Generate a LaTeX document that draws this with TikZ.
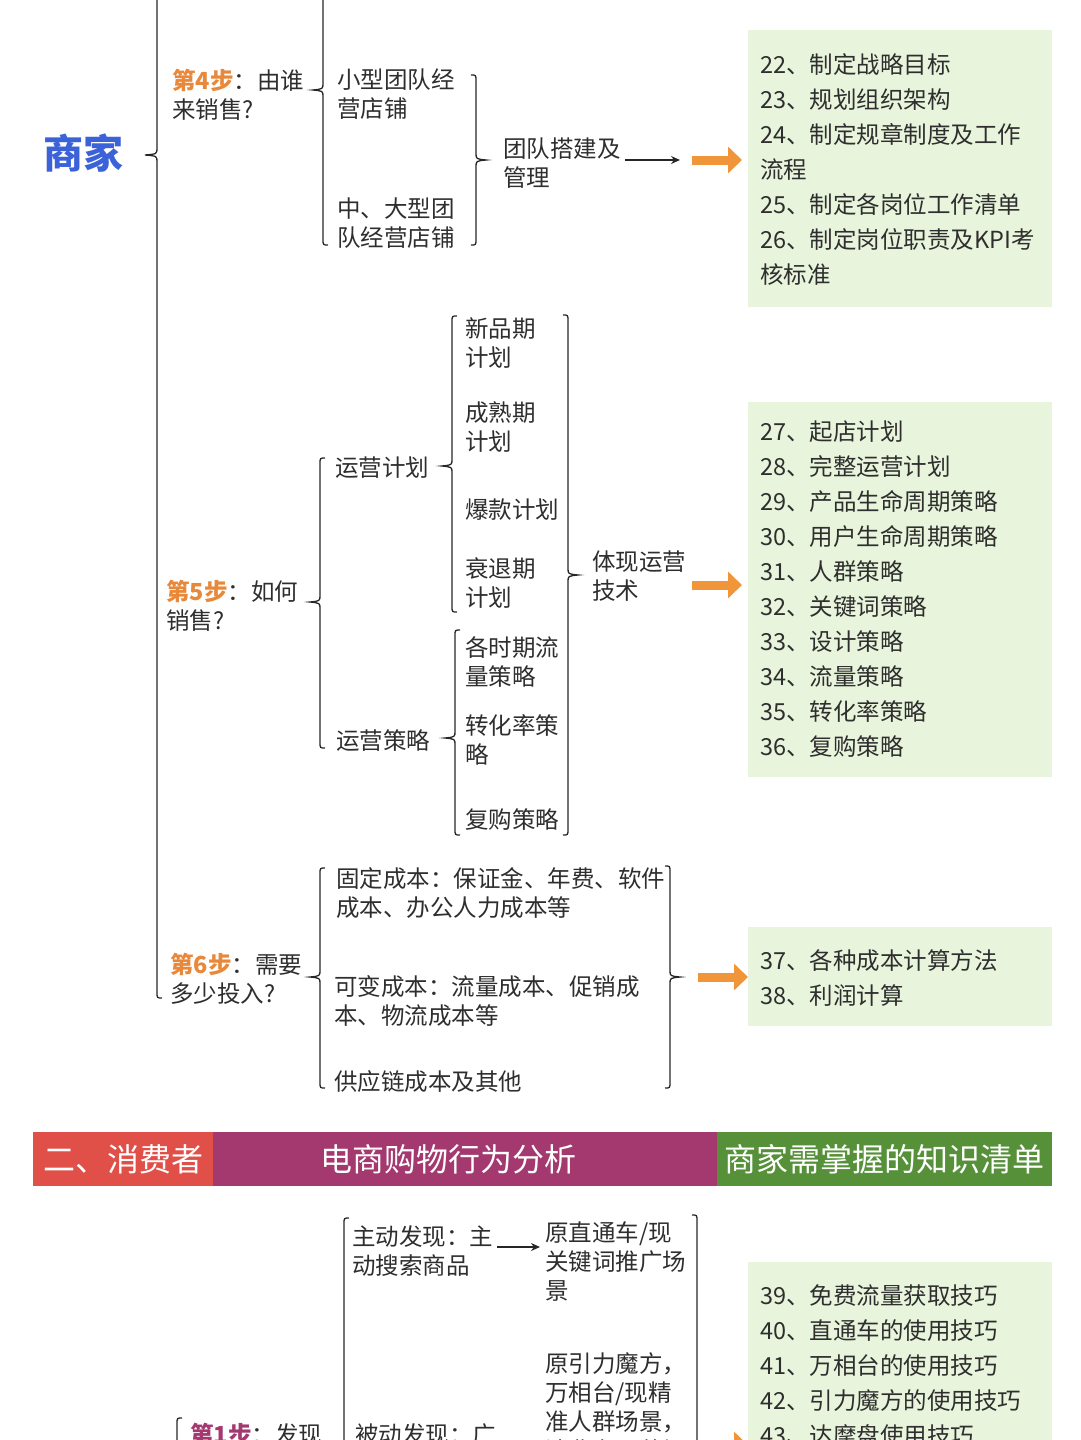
\documentclass[tikz,border=0pt]{standalone}
\usepackage{fontspec}
\setmainfont{Noto Sans CJK SC}
\usetikzlibrary{arrows.meta}
\definecolor{orng}{HTML}{F0953A}
\definecolor{stp}{HTML}{E8883A}
\definecolor{grn}{HTML}{E8F5DC}
\definecolor{hred}{HTML}{E05049}
\definecolor{hpur}{HTML}{A3396F}
\definecolor{hgrn}{HTML}{56913A}
\definecolor{blu}{HTML}{3B62D8}
\definecolor{txt}{HTML}{2E2E2E}
\newcommand\LBr[4]{\draw[brc] (#1+5,#2) .. controls (#1,#2) .. (#1,#2+6) -- (#1,#4-7) .. controls (#1,#4-1) .. (#1-10,#4) .. controls (#1,#4+1) .. (#1,#4+7) -- (#1,#3-6) .. controls (#1,#3) .. (#1+5,#3);}
\newcommand\RBr[4]{\draw[brc] (#1-5,#2) .. controls (#1,#2) .. (#1,#2+6) -- (#1,#4-7) .. controls (#1,#4-1) .. (#1+10,#4) .. controls (#1,#4+1) .. (#1,#4+7) -- (#1,#3-6) .. controls (#1,#3) .. (#1-5,#3);}
\tikzset{
 brc/.style={line width=1.3pt, black!85},
 tx/.style={anchor=north west, align=left, inner sep=0pt, yshift=-5pt, text=txt, font=\fontsize{23.5}{29}\selectfont},
 lst/.style={anchor=north west, align=left, inner sep=0pt, yshift=-6pt, text=txt, font=\fontsize{23.5}{35}\selectfont},
 gbox/.style={fill=grn, draw=none},
 oarr/.style={-{Triangle[length=14pt,width=26pt]}, line width=9pt, orng, shorten >=0pt},
 karr/.style={-{Stealth[length=9pt,width=8pt]}, line width=1.3pt, black!85},
 hd/.style={text=white, font=\fontsize{32}{36}\selectfont, inner sep=0pt}
}
\begin{document}
\begin{tikzpicture}[x=1pt,y=-1pt]
\useasboundingbox (0,0) rectangle (1080,1440);
\clip (0,0) rectangle (1080,1440);
% root
\node[text=blu, font=\fontsize{40}{44}\selectfont\bfseries, inner sep=0pt] (root) at (83,153) {商家};
\draw[brc] (157,-10) -- (157,148) .. controls (157,154) .. (145,155) .. controls (157,156) .. (157,162) -- (157,992) .. controls (157,998) .. (162,998);
% step 4
\node[tx] (s4) at (172,64) {\textcolor{stp}{\bfseries 第4步}：由谁\\来销售?};
\draw[brc] (323,-10) -- (323,83) .. controls (323,89) .. (313,90) .. controls (323,91) .. (323,97) -- (323,239) .. controls (323,245) .. (328,245);
\node[tx] (a1) at (337,64) {小型团队经\\营店铺};
\node[tx] (a2) at (337,193) {中、大型团\\队经营店铺};
\RBr{476}{75}{245}{160}
\node[tx] (a3) at (503,133) {团队搭建及\\管理};
\coordinate (a3e) at (625,160);
\coordinate (o1s) at (692,160);
\draw[karr] (a3e) -- (680,160);
\draw[oarr] (o1s) -- (742,160);
\fill[gbox] (748,30) rectangle (1052,307);
\node[lst] (l1) at (760,47) {22、制定战略目标\\23、规划组织架构\\24、制定规章制度及工作\\流程\\25、制定各岗位工作清单\\26、制定岗位职责及KPI考\\核标准};
% step 5
\node[tx] (s5) at (166,575) {\textcolor{stp}{\bfseries 第5步}：如何\\销售?};
\LBr{320}{458}{748}{602}
\node[tx] (b1) at (335,452) {运营计划};
\node[tx] (b2) at (336,724) {运营策略};
\LBr{452}{316}{612}{466}
\LBr{455}{630}{835}{738}
\node[tx] (c1) at (465,312) {新品期\\计划};
\node[tx] (c2) at (465,396) {成熟期\\计划};
\node[tx] (c3) at (465,494) {爆款计划};
\node[tx] (c4) at (465,552) {衰退期\\计划};
\node[tx] (c5) at (465,631) {各时期流\\量策略};
\node[tx] (c6) at (465,709) {转化率策\\略};
\node[tx] (c7) at (465,803) {复购策略};
\RBr{568}{315}{835}{575}
\node[tx] (b3) at (592,546) {体现运营\\技术};
\draw[oarr] (692,585) -- (742,585);
\fill[gbox] (748,402) rectangle (1052,777);
\node[lst] (l2) at (760,415) {27、起店计划\\28、完整运营计划\\29、产品生命周期策略\\30、用户生命周期策略\\31、人群策略\\32、关键词策略\\33、设计策略\\34、流量策略\\35、转化率策略\\36、复购策略};
% step 6
\node[tx] (s6) at (170,948) {\textcolor{stp}{\bfseries 第6步}：需要\\多少投入?};
\LBr{320}{868}{1088}{977}
\node[tx] (d1) at (336,862) {固定成本：保证金、年费、软件\\成本、办公人力成本等};
\node[tx] (d2) at (334,970) {可变成本：流量成本、促销成\\本、物流成本等};
\node[tx] (d3) at (334,1065) {供应链成本及其他};
\RBr{670}{866}{1088}{977}
\draw[oarr] (698,977) -- (748,977);
\fill[gbox] (748,927) rectangle (1052,1026);
\node[lst] (l3) at (760,943) {37、各种成本计算方法\\38、利润计算};
% header
\fill[hred] (33,1132) rectangle (213,1186);
\fill[hpur] (213,1132) rectangle (717,1186);
\fill[hgrn] (717,1132) rectangle (1052,1186);
\node[hd] (h1) at (123,1159) {二、消费者};
\node[hd] (h2) at (448,1159) {电商购物行为分析};
\node[hd] (h3) at (884,1159) {商家需掌握的知识清单};
% consumer step 1
\node[tx] (e0) at (190,1418) {\textcolor{hpur}{\bfseries 第1步}：发现};
\draw[brc] (182,1418) .. controls (177,1418) .. (177,1424) -- (177,1460);
\draw[brc] (349,1218) .. controls (344,1218) .. (344,1224) -- (344,1460);
\node[tx] (e1) at (352,1220) {主动发现：主\\动搜索商品};
\node[tx] (e2) at (355,1418) {被动发现：广};
\node[tx] (f1) at (545,1216) {原直通车/现\\关键词推广场\\景};
\node[tx] (f2) at (545,1347) {原引力魔方，\\万相台/现精\\准人群场景，\\消费者运营场};
\coordinate (e1e) at (497,1247);
\draw[karr] (e1e) -- (540,1247);
\draw[brc] (692,1215) .. controls (697,1215) .. (697,1221) -- (697,1460);
\draw[oarr] (705,1445) -- (748,1445);
\fill[gbox] (748,1262) rectangle (1052,1450);
\node[lst] (l4) at (760,1278) {39、免费流量获取技巧\\40、直通车的使用技巧\\41、万相台的使用技巧\\42、引力魔方的使用技巧\\43、达摩盘使用技巧};
\end{tikzpicture}
\end{document}
